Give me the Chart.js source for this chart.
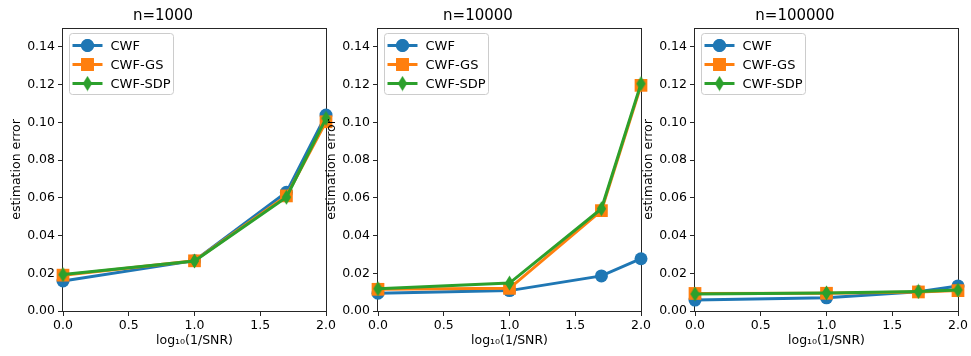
<!DOCTYPE html>
<html>
<head>
<meta charset="utf-8">
<script src="https://cdn.jsdelivr.net/npm/chart.js@4.4.1/dist/chart.umd.min.js"></script>
<style>
  body { margin: 0; background: #fff; }
  #wrap { position: relative; width: 971px; height: 356px; overflow: hidden; }
  .panel { position: absolute; top: 0; width: 342px; height: 356px; }
</style>
</head>
<body>
<div id="wrap">
  <div class="panel" style="left:0px"><canvas id="c0"></canvas></div>
  <div class="panel" style="left:315px"><canvas id="c1"></canvas></div>
  <div class="panel" style="left:632px"><canvas id="c2"></canvas></div>
</div>
<script>
// x positions: log10(1/SNR) for SNR = 1, 0.1, 0.02, 0.01
const xValues = [0, 1, 1.699, 2];
const xTicks = [0, 0.5, 1, 1.5, 2];
const yTicks = [0, 0.02, 0.04, 0.06, 0.08, 0.1, 0.12, 0.14];

const panelTitles = ["n=1000", "n=10000", "n=100000"];
const methods = ["CWF", "CWF-GS", "CWF-SDP"];

// n=1000
const cwf1000 = [0.0159, 0.0267, 0.0629, 0.1039];
const gs1000 = [0.0190, 0.0266, 0.0610, 0.1003];
const sdp1000 = [0.0193, 0.0265, 0.0603, 0.1021];
// n=10000
const cwf10000 = [0.0094, 0.0108, 0.0186, 0.0277];
const gs10000 = [0.0115, 0.0120, 0.0532, 0.1196];
const sdp10000 = [0.0118, 0.0148, 0.0542, 0.1205];
// n=100000
const cwf100000 = [0.0058, 0.0070, 0.0102, 0.0133];
const gs100000 = [0.0093, 0.0094, 0.0101, 0.0108];
const sdp100000 = [0.0090, 0.0096, 0.0104, 0.0111];

const panelData = [
  [cwf1000, gs1000, sdp1000],
  [cwf10000, gs10000, sdp10000],
  [cwf100000, gs100000, sdp100000]
];

const colors = ["#1f77b4", "#ff7f0e", "#2ca02c"];
const FONT = "'DejaVu Sans', sans-serif";

// matplotlib style thin diamond marker
function thinDiamond(color) {
  const c = document.createElement("canvas");
  c.width = 11; c.height = 16;
  const g = c.getContext("2d");
  g.fillStyle = color;
  g.beginPath();
  g.moveTo(5.5, 0.5);
  g.lineTo(10.2, 8);
  g.lineTo(5.5, 15.5);
  g.lineTo(0.8, 8);
  g.closePath();
  g.fill();
  return c;
}

const markers = [
  { style: "circle", radius: 6.5 },
  { style: "rect", radius: 9 },
  { style: thinDiamond(colors[2]), radius: 8 }
];

function drawMarker(ctx, i, x, y) {
  const m = markers[i];
  if (typeof m.style === "string") {
    Chart.helpers.drawPoint(ctx, { pointStyle: m.style, radius: m.radius, borderWidth: 0 }, x, y);
    ctx.fill();
  } else {
    ctx.drawImage(m.style, x - m.style.width / 2, y - m.style.height / 2);
  }
}

const framePlugin = {
  id: "frame",
  beforeDatasetsDraw(chart) {
    const a = chart.chartArea;
    const ctx = chart.ctx;
    ctx.save();
    ctx.strokeStyle = "#262626";
    ctx.lineWidth = 1;
    ctx.strokeRect(Math.round(a.left) - 0.5, Math.round(a.top) + 0.5,
      Math.round(a.right - a.left) + 1, Math.round(a.bottom - a.top));
    ctx.restore();
  }
};

const legendPlugin = {
  id: "mplLegend",
  afterDraw(chart) {
    const a = chart.chartArea;
    const ctx = chart.ctx;
    const bx = a.left + 6.5, by = a.top + 5.5, bw = 104, bh = 61;
    ctx.save();
    ctx.fillStyle = "rgba(255,255,255,0.85)";
    ctx.strokeStyle = "#cccccc";
    ctx.lineWidth = 1;
    ctx.beginPath();
    ctx.roundRect(bx, by, bw, bh, 3);
    ctx.fill();
    ctx.stroke();
    methods.forEach((name, i) => {
      const cy = by + 12 + i * 19;
      ctx.strokeStyle = colors[i];
      ctx.fillStyle = colors[i];
      ctx.lineWidth = 3;
      ctx.beginPath();
      ctx.moveTo(bx + 3, cy);
      ctx.lineTo(bx + 33, cy);
      ctx.stroke();
      drawMarker(ctx, i, bx + 18, cy);
      ctx.fillStyle = "#000";
      ctx.font = "13px " + FONT;
      ctx.textBaseline = "middle";
      ctx.textAlign = "left";
      ctx.fillText(name, bx + 41, cy + 1);
    });
    ctx.restore();
  }
};

function makeChart(idx) {
  const datasets = methods.map((name, i) => ({
    label: name,
    data: xValues.map((x, k) => ({ x: x, y: panelData[idx][i][k] })),
    showLine: true,
    borderColor: colors[i],
    backgroundColor: colors[i],
    borderWidth: 3,
    pointStyle: markers[i].style,
    pointRadius: markers[i].radius,
    pointBorderWidth: 0,
    pointHoverRadius: markers[i].radius,
    order: 3 - i,
    clip: false
  }));

  new Chart(document.getElementById("c" + idx), {
    type: "scatter",
    data: { datasets: datasets },
    options: {
      responsive: true,
      maintainAspectRatio: false,
      animation: false,
      events: [],
      layout: { padding: { left: 0, right: 16, top: 0, bottom: 0 } },
      plugins: {
        legend: { display: false },
        tooltip: { enabled: false },
        title: {
          display: true,
          text: panelTitles[idx],
          color: "#000",
          font: { family: FONT, size: 15, weight: "normal", lineHeight: 1.2 },
          padding: { top: 7, bottom: 3 }
        }
      },
      scales: {
        x: {
          type: "linear",
          min: 0,
          max: 2,
          afterFit(s) { s.height = 45; },
          afterBuildTicks(s) { s.ticks = xTicks.map(v => ({ value: v })); },
          grid: { display: true, drawOnChartArea: false, drawTicks: true, tickLength: 5, color: "#262626" },
          border: { display: false },
          ticks: {
            color: "#000",
            padding: 2,
            maxRotation: 0,
            font: { family: FONT, size: 12.5 },
            callback: v => v.toFixed(1)
          },
          title: {
            display: true,
            text: "log\u2081\u2080(1/SNR)",
            color: "#000",
            font: { family: FONT, size: 12.5, lineHeight: 1.2 },
            padding: { top: 0, bottom: 8 }
          }
        },
        y: {
          type: "linear",
          min: 0,
          max: 0.15,
          afterFit(s) { s.width = 63; },
          afterBuildTicks(s) { s.ticks = yTicks.map(v => ({ value: v })); },
          grid: { display: true, drawOnChartArea: false, drawTicks: true, tickLength: 5, color: "#262626" },
          border: { display: false },
          ticks: {
            color: "#000",
            padding: 3,
            font: { family: FONT, size: 12.5 },
            callback: v => v.toFixed(2)
          },
          title: {
            display: true,
            text: "estimation error",
            color: "#000",
            font: { family: FONT, size: 12.5, lineHeight: 1.2 },
            padding: { top: 9, bottom: 0 }
          }
        }
      }
    },
    plugins: [framePlugin, legendPlugin]
  });
}

[0, 1, 2].forEach(makeChart);
</script>
</body>
</html>
